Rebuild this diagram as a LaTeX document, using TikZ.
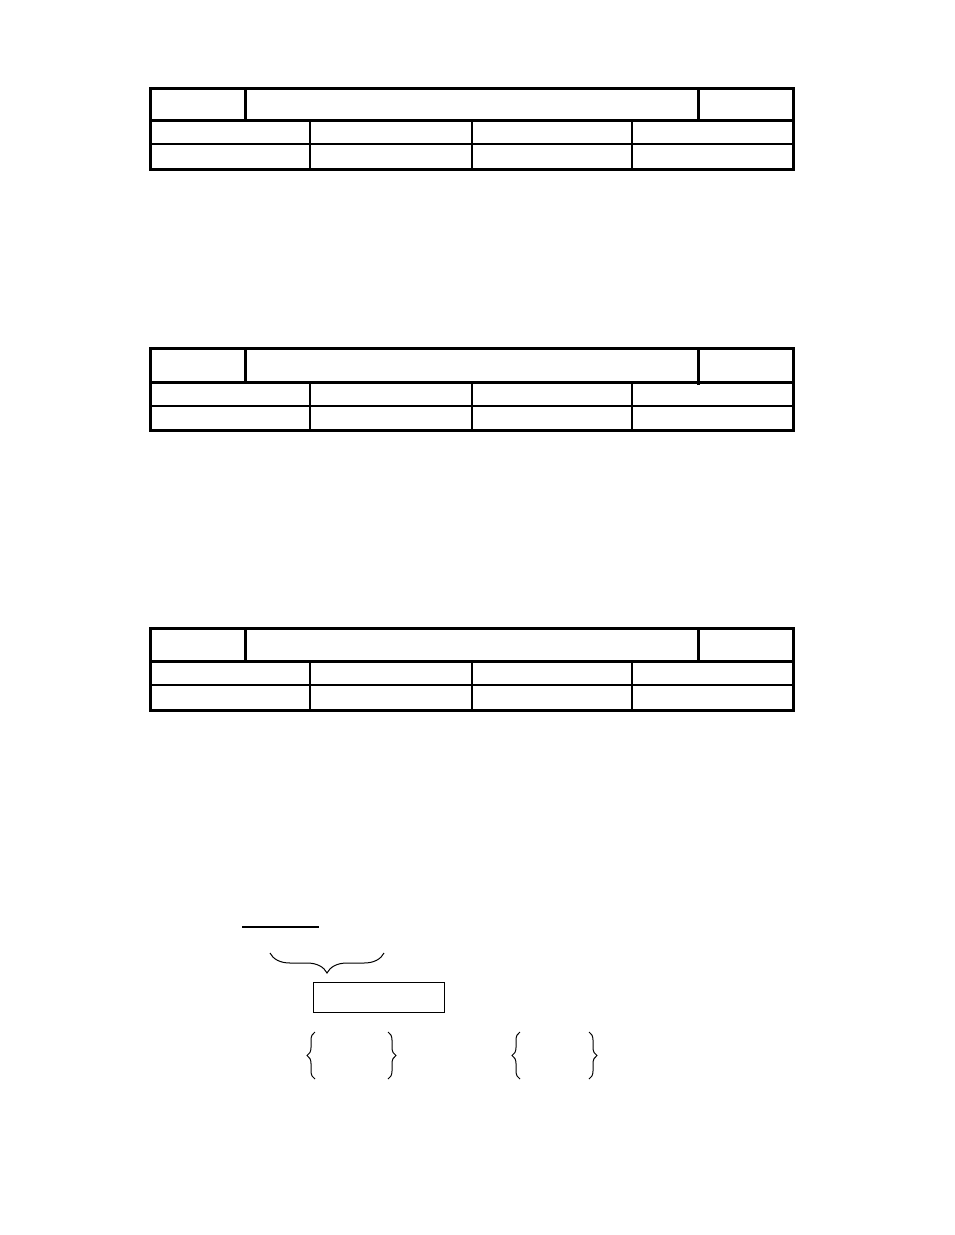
\documentclass[tikz,border=0pt]{standalone}
\usetikzlibrary{decorations.pathreplacing}
\begin{document}
\begin{tikzpicture}[x=1pt,y=-1pt,
  thickrule/.style={line width=3pt},
  thinrule/.style={line width=1.4pt},
  bracepath/.style={decorate,line width=1pt,decoration={brace,amplitude=#1}}]
\useasboundingbox (0,0) rectangle (954,1235);
\fill[white] (0,0) rectangle (954,1235);
% tables
\foreach \t/\h/\m/\b/\ext in {88/120/144/169/0,348/382/406/430/3,628/661/685/710/0}{
  \draw[thinrule] (150,\m) -- (793,\m);
  \foreach \x in {310,472,632} \draw[thinrule] (\x,\h) -- (\x,\b);
  \draw[thickrule] (150,\h) -- (793,\h);
  \draw[thickrule] (245,\t) -- (245,\h);
  \draw[thickrule] (698,\t) -- (698,\h+\ext);
  \draw[thickrule] (150,\t) rectangle (793,\b);
}
% bottom figure
\coordinate (la) at (242,927);
\coordinate (lb) at (319,927);
\draw[line width=1.2pt] (la) -- (lb);
\draw[bracepath=20pt] (384,953) -- (270,953);
\node[draw,line width=1.4pt,minimum width=131pt,minimum height=30pt,inner sep=0pt,anchor=north west] (box) at (313,982) {};
\draw[bracepath=8pt] (315,1079) -- (315,1032);
\draw[bracepath=8pt] (388,1032) -- (388,1079);
\draw[bracepath=8pt] (520,1079) -- (520,1032);
\draw[bracepath=8pt] (589,1032) -- (589,1079);
\end{tikzpicture}
\end{document}
